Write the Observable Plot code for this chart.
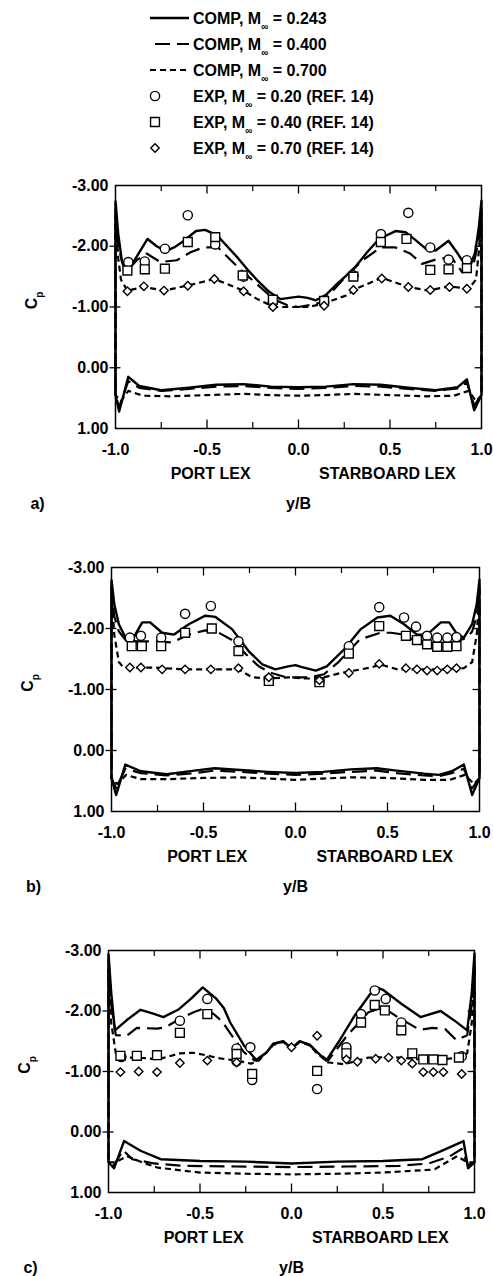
<!DOCTYPE html>
<html><head><meta charset="utf-8">
<script src="https://cdn.jsdelivr.net/npm/d3@7"></script>
<script src="https://cdn.jsdelivr.net/npm/@observablehq/plot@0.6"></script>
<style>
body{margin:0;background:#fff;}
#root{position:relative;width:493px;height:1276px;overflow:hidden;background:#fff;font-family:"Liberation Sans",Arial,sans-serif;}
#root svg{position:absolute;left:0;overflow:visible;}
</style></head><body><div id="root"></div>
<script>
// ---------- tick values and labels ----------
const xTickValues = [-1, -0.5, 0, 0.5, 1];
const xMinorTickValues = [-0.75, -0.25, 0.25, 0.75];
const yTickValues = [-3, -2, -1, 0, 1];
const sideLabels = ["PORT LEX", "STARBOARD LEX"];
const sideLabelX = [-0.48, 0.485];
const axisTitle = "y/B";
const panelLetters = ["a)", "b)", "c)"];
const compMach = ["0.243", "0.400", "0.700"];
const expMach = ["0.20", "0.40", "0.70"];

// ---------- panel a ----------
const a_u243 = [[-1.0,-2.75],[-0.985,-2.2],[-0.965,-1.75],[-0.935,-1.57],[-0.88,-1.85],[-0.825,-2.12],[-0.775,-2.0],[-0.725,-1.92],[-0.68,-1.98],[-0.635,-2.07],[-0.56,-2.25],[-0.51,-2.27],[-0.445,-2.18],[-0.39,-2.0],[-0.335,-1.82],[-0.28,-1.62],[-0.225,-1.44],[-0.16,-1.25],[-0.1,-1.13],[-0.05,-1.15],[0.0,-1.17],[0.05,-1.15],[0.095,-1.11],[0.15,-1.2],[0.2,-1.35],[0.255,-1.5],[0.31,-1.66],[0.375,-1.9],[0.44,-2.12],[0.53,-2.25],[0.585,-2.23],[0.64,-2.1],[0.695,-1.96],[0.75,-1.93],[0.82,-2.09],[0.87,-1.88],[0.93,-1.6],[0.965,-1.9],[0.985,-2.3],[1.0,-2.75]];
const a_u400 = [[-1.0,-2.6],[-0.985,-2.0],[-0.96,-1.7],[-0.935,-1.6],[-0.88,-1.78],[-0.83,-1.88],[-0.755,-1.74],[-0.665,-1.77],[-0.59,-1.9],[-0.52,-1.98],[-0.44,-1.98],[-0.37,-1.77],[-0.3,-1.57],[-0.21,-1.33],[-0.13,-1.12],[-0.06,-1.03],[0,-1.0],[0.06,-1.03],[0.13,-1.08],[0.24,-1.44],[0.35,-1.77],[0.45,-1.98],[0.53,-1.98],[0.61,-1.88],[0.675,-1.71],[0.77,-1.8],[0.84,-1.8],[0.895,-1.57],[0.935,-1.6],[0.96,-1.75],[0.985,-2.1],[1.0,-2.6]];
const a_u700 = [[-1.0,-2.5],[-0.985,-1.8],[-0.97,-1.45],[-0.935,-1.27],[-0.845,-1.33],[-0.735,-1.27],[-0.61,-1.35],[-0.46,-1.46],[-0.3,-1.27],[-0.225,-1.13],[-0.135,-1.0],[0,-1.0],[0.05,-1.0],[0.13,-1.05],[0.26,-1.19],[0.33,-1.32],[0.455,-1.48],[0.6,-1.33],[0.71,-1.27],[0.82,-1.34],[0.93,-1.3],[0.97,-1.45],[0.985,-1.9],[1.0,-2.5]];
const a_l243 = [[-1.0,0.45],[-0.98,0.72],[-0.93,0.15],[-0.87,0.3],[-0.75,0.37],[-0.6,0.33],[-0.45,0.28],[-0.3,0.27],[-0.15,0.31],[0,0.32],[0.15,0.31],[0.3,0.27],[0.45,0.28],[0.6,0.33],[0.75,0.37],[0.87,0.32],[0.92,0.19],[0.96,0.7],[1.0,0.45]];
const a_l400 = [[-1.0,0.45],[-0.98,0.65],[-0.93,0.22],[-0.87,0.33],[-0.75,0.38],[-0.6,0.35],[-0.45,0.31],[-0.3,0.3],[-0.15,0.33],[0,0.35],[0.15,0.33],[0.3,0.3],[0.45,0.31],[0.6,0.35],[0.75,0.38],[0.87,0.34],[0.92,0.24],[0.96,0.62],[1.0,0.45]];
const a_l700 = [[-1.0,0.45],[-0.97,0.55],[-0.93,0.38],[-0.85,0.46],[-0.7,0.47],[-0.5,0.45],[-0.3,0.43],[-0.15,0.45],[0,0.46],[0.15,0.45],[0.3,0.43],[0.5,0.45],[0.7,0.47],[0.85,0.46],[0.93,0.38],[0.97,0.55],[1.0,0.45]];
const a_e20 = [[-0.93,-1.74],[-0.84,-1.75],[-0.73,-1.96],[-0.605,-2.51],[-0.455,-2.03],[-0.3,-1.5],[-0.14,-1.08],[0.14,-1.08],[0.3,-1.52],[0.45,-2.2],[0.6,-2.55],[0.72,-1.98],[0.82,-1.78],[0.92,-1.77]];
const a_e40 = [[-0.935,-1.6],[-0.84,-1.62],[-0.73,-1.63],[-0.605,-2.07],[-0.455,-2.15],[-0.305,-1.52],[-0.14,-1.12],[0.14,-1.1],[0.3,-1.5],[0.45,-2.07],[0.59,-2.12],[0.72,-1.61],[0.82,-1.62],[0.92,-1.64]];
const a_e70 = [[-0.935,-1.26],[-0.845,-1.34],[-0.735,-1.27],[-0.605,-1.35],[-0.46,-1.46],[-0.3,-1.26],[-0.14,-1.0],[0.14,-1.02],[0.3,-1.28],[0.455,-1.47],[0.6,-1.33],[0.72,-1.28],[0.825,-1.33],[0.92,-1.3]];

// ---------- panel b ----------
const b_u243 = [[-1.0,-2.8],[-0.985,-2.4],[-0.96,-2.07],[-0.924,-1.85],[-0.88,-1.85],[-0.833,-2.1],[-0.79,-2.1],[-0.725,-1.93],[-0.66,-1.9],[-0.58,-2.07],[-0.49,-2.21],[-0.435,-2.19],[-0.345,-1.99],[-0.255,-1.63],[-0.18,-1.41],[-0.11,-1.33],[-0.04,-1.38],[0,-1.4],[0.03,-1.37],[0.11,-1.31],[0.17,-1.38],[0.265,-1.66],[0.355,-1.99],[0.445,-2.18],[0.515,-2.21],[0.59,-2.07],[0.66,-1.9],[0.715,-1.9],[0.79,-2.1],[0.835,-2.1],[0.88,-1.9],[0.915,-1.85],[0.96,-2.07],[0.985,-2.4],[1.0,-2.8]];
const b_u400 = [[-1.0,-2.7],[-0.985,-2.2],[-0.96,-1.95],[-0.92,-1.8],[-0.85,-1.79],[-0.76,-1.79],[-0.67,-1.77],[-0.58,-1.9],[-0.49,-1.97],[-0.435,-1.96],[-0.35,-1.82],[-0.27,-1.58],[-0.2,-1.38],[-0.13,-1.27],[-0.05,-1.2],[0,-1.2],[0.08,-1.2],[0.155,-1.25],[0.23,-1.44],[0.35,-1.82],[0.46,-1.93],[0.52,-1.93],[0.59,-1.9],[0.66,-1.78],[0.77,-1.77],[0.86,-1.77],[0.93,-1.85],[0.96,-1.95],[0.985,-2.2],[1.0,-2.7]];
const b_u700 = [[-1.0,-2.6],[-0.985,-1.9],[-0.96,-1.45],[-0.94,-1.38],[-0.89,-1.36],[-0.76,-1.36],[-0.615,-1.33],[-0.47,-1.33],[-0.31,-1.33],[-0.235,-1.2],[-0.145,-1.18],[-0.035,-1.2],[0.05,-1.18],[0.13,-1.18],[0.245,-1.27],[0.3,-1.3],[0.41,-1.36],[0.46,-1.41],[0.555,-1.33],[0.7,-1.33],[0.805,-1.33],[0.915,-1.35],[0.96,-1.45],[0.985,-1.9],[1.0,-2.6]];
const b_l243 = [[-1.0,0.45],[-0.975,0.73],[-0.925,0.23],[-0.84,0.34],[-0.7,0.39],[-0.55,0.33],[-0.44,0.29],[-0.3,0.32],[-0.15,0.35],[0,0.37],[0.15,0.35],[0.3,0.31],[0.44,0.29],[0.55,0.33],[0.7,0.38],[0.78,0.4],[0.85,0.34],[0.915,0.23],[0.96,0.73],[1.0,0.45]];
const b_l400 = [[-1.0,0.45],[-0.975,0.62],[-0.925,0.3],[-0.84,0.37],[-0.7,0.41],[-0.55,0.37],[-0.44,0.33],[-0.3,0.35],[-0.15,0.38],[0,0.4],[0.15,0.38],[0.3,0.35],[0.44,0.33],[0.55,0.37],[0.7,0.41],[0.78,0.42],[0.85,0.37],[0.915,0.3],[0.96,0.62],[1.0,0.45]];
const b_l700 = [[-1.0,0.45],[-0.97,0.55],[-0.92,0.4],[-0.84,0.47],[-0.7,0.47],[-0.5,0.45],[-0.3,0.44],[-0.15,0.46],[0,0.48],[0.15,0.46],[0.3,0.44],[0.5,0.45],[0.7,0.48],[0.84,0.48],[0.92,0.4],[0.97,0.55],[1.0,0.45]];
const b_e20 = [[-0.9,-1.85],[-0.84,-1.88],[-0.73,-1.85],[-0.6,-2.24],[-0.46,-2.37],[-0.31,-1.79],[-0.145,-1.17],[0.13,-1.13],[0.29,-1.71],[0.455,-2.35],[0.59,-2.18],[0.655,-2.03],[0.715,-1.88],[0.77,-1.85],[0.825,-1.85],[0.875,-1.86]];
const b_e40 = [[-0.89,-1.71],[-0.835,-1.71],[-0.73,-1.71],[-0.6,-1.93],[-0.455,-2.0],[-0.31,-1.63],[-0.145,-1.14],[0.13,-1.12],[0.29,-1.59],[0.455,-2.04],[0.6,-1.88],[0.66,-1.81],[0.715,-1.74],[0.77,-1.7],[0.825,-1.7],[0.875,-1.71]];
const b_e70 = [[-0.9,-1.36],[-0.84,-1.36],[-0.725,-1.33],[-0.6,-1.33],[-0.46,-1.33],[-0.31,-1.35],[-0.145,-1.2],[0.13,-1.15],[0.29,-1.27],[0.455,-1.42],[0.6,-1.35],[0.66,-1.33],[0.715,-1.31],[0.77,-1.31],[0.825,-1.33],[0.875,-1.35]];

// ---------- panel c ----------
const c_u243 = [[-1.0,-2.95],[-0.985,-2.3],[-0.965,-1.68],[-0.9,-1.85],[-0.825,-2.02],[-0.76,-1.96],[-0.7,-1.9],[-0.62,-2.02],[-0.55,-2.2],[-0.485,-2.39],[-0.41,-2.2],[-0.37,-2.05],[-0.335,-1.81],[-0.26,-1.43],[-0.19,-1.18],[-0.135,-1.32],[-0.1,-1.46],[-0.045,-1.5],[0,-1.38],[0.045,-1.5],[0.1,-1.44],[0.14,-1.32],[0.19,-1.18],[0.26,-1.5],[0.34,-1.9],[0.43,-2.28],[0.465,-2.39],[0.5,-2.35],[0.6,-2.12],[0.705,-1.9],[0.815,-2.0],[0.9,-1.82],[0.96,-1.68],[0.985,-2.3],[1.0,-2.95]];
const c_u400 = [[-1.0,-2.85],[-0.985,-2.1],[-0.96,-1.6],[-0.9,-1.59],[-0.845,-1.72],[-0.735,-1.71],[-0.69,-1.73],[-0.61,-1.87],[-0.535,-1.98],[-0.48,-2.04],[-0.425,-1.95],[-0.38,-1.83],[-0.325,-1.59],[-0.26,-1.32],[-0.2,-1.18],[-0.135,-1.32],[-0.1,-1.45],[-0.045,-1.5],[0,-1.38],[0.045,-1.5],[0.1,-1.44],[0.14,-1.32],[0.2,-1.18],[0.3,-1.58],[0.42,-1.98],[0.5,-2.06],[0.58,-1.9],[0.7,-1.69],[0.77,-1.72],[0.84,-1.7],[0.9,-1.52],[0.96,-1.6],[0.985,-2.1],[1.0,-2.85]];
const c_u700 = [[-1.0,-2.7],[-0.985,-1.8],[-0.96,-1.3],[-0.9,-1.23],[-0.8,-1.22],[-0.73,-1.2],[-0.61,-1.3],[-0.535,-1.31],[-0.47,-1.27],[-0.4,-1.22],[-0.3,-1.18],[-0.22,-1.13],[-0.18,-1.18],[-0.135,-1.32],[-0.1,-1.44],[-0.045,-1.49],[0,-1.37],[0.045,-1.49],[0.1,-1.43],[0.14,-1.3],[0.2,-1.15],[0.29,-1.12],[0.36,-1.18],[0.42,-1.23],[0.55,-1.24],[0.7,-1.2],[0.8,-1.2],[0.9,-1.22],[0.96,-1.3],[0.985,-1.8],[1.0,-2.7]];
const c_l243 = [[-1.0,0.5],[-0.97,0.6],[-0.915,0.15],[-0.825,0.31],[-0.715,0.45],[-0.5,0.48],[-0.25,0.49],[0,0.52],[0.25,0.49],[0.5,0.48],[0.715,0.45],[0.83,0.3],[0.94,0.15],[0.965,0.6],[1.0,0.5]];
const c_l400 = [[-1.0,0.5],[-0.97,0.55],[-0.92,0.3],[-0.87,0.45],[-0.75,0.52],[-0.59,0.56],[-0.3,0.57],[0,0.58],[0.3,0.57],[0.59,0.56],[0.75,0.52],[0.86,0.41],[0.93,0.28],[0.965,0.55],[1.0,0.5]];
const c_l700 = [[-1.0,0.5],[-0.96,0.5],[-0.9,0.4],[-0.8,0.52],[-0.73,0.59],[-0.5,0.67],[-0.25,0.69],[0,0.7],[0.25,0.69],[0.5,0.67],[0.78,0.62],[0.905,0.4],[0.96,0.5],[1.0,0.5]];
const c_e20 = [[-0.93,-1.24],[-0.61,-1.84],[-0.46,-2.2],[-0.3,-1.38],[-0.3,-1.17],[-0.225,-1.4],[-0.215,-0.86],[0.14,-0.71],[0.3,-1.4],[0.38,-1.95],[0.455,-2.34],[0.515,-2.2],[0.6,-1.81],[0.93,-1.25]];
const c_e40 = [[-0.935,-1.26],[-0.845,-1.26],[-0.735,-1.27],[-0.61,-1.64],[-0.46,-1.95],[-0.3,-1.29],[-0.215,-0.96],[0.14,-1.01],[0.3,-1.3],[0.38,-1.81],[0.455,-2.1],[0.51,-2.01],[0.6,-1.68],[0.66,-1.3],[0.72,-1.2],[0.775,-1.2],[0.825,-1.19],[0.915,-1.23]];
const c_e70 = [[-0.935,-0.99],[-0.835,-1.0],[-0.735,-0.99],[-0.61,-1.14],[-0.46,-1.18],[-0.3,-1.15],[0.0,-1.4],[0.14,-1.59],[0.3,-1.2],[0.36,-1.16],[0.46,-1.21],[0.53,-1.23],[0.6,-1.18],[0.66,-1.13],[0.72,-0.99],[0.775,-0.99],[0.83,-0.99],[0.93,-0.96]];

// ---------- styles / layout ----------
const FONT = '"Liberation Sans", Arial, sans-serif';
const FS = 16;
const FW = "bold";
const lineStyles = [{dash: null, w: 2.4}, {dash: "15,7", w: 2.2}, {dash: "6,4", w: 2.2}];
const symbols = [{symbol: "circle", r: 4.6}, {symbol: "square", r: 5.0}, {symbol: "diamond2", r: 3.8}];

const layout = [
  {top: 160, height: 360, mt: 25, mb: 92, ml: 115, mr: 12},
  {top: 545, height: 360, mt: 22, mb: 94, ml: 111, mr: 14},
  {top: 928, height: 348, mt: 22, mb: 84, ml: 108, mr: 19}
];
const panelData = [
  {u: [a_u243, a_u400, a_u700], l: [a_l243, a_l400, a_l700], e: [a_e20, a_e40, a_e70]},
  {u: [b_u243, b_u400, b_u700], l: [b_l243, b_l400, b_l700], e: [b_e20, b_e40, b_e70]},
  {u: [c_u243, c_u400, c_u700], l: [c_l243, c_l400, c_l700], e: [c_e20, c_e40, c_e70]}
];

const loop = (upper, lower) => [...upper, ...lower.slice().reverse(), upper[0]];
const root = document.getElementById("root");

// ---------- legend ----------
const legend = d3.select(root).append("svg")
  .attr("width", 493).attr("height", 165).style("top", "0px")
  .attr("font-family", FONT).attr("font-size", FS).attr("font-weight", FW);
const rowY = i => 18 + i * 26;
compMach.forEach((m, i) => {
  const st = lineStyles[i];
  legend.append("line")
    .attr("x1", i === 1 ? 155 : 150).attr("x2", 189)
    .attr("y1", rowY(i)).attr("y2", rowY(i))
    .attr("stroke", "black").attr("stroke-width", st.w)
    .attr("stroke-dasharray", st.dash);
  const t = legend.append("text").attr("x", 193).attr("y", rowY(i)).attr("dy", "0.36em");
  t.append("tspan").text("COMP, M");
  t.append("tspan").attr("font-size", 10).attr("baseline-shift", "sub").text("\u221E");
  t.append("tspan").text(" = " + m);
});
expMach.forEach((m, i) => {
  const y = rowY(i + 3);
  const sy = symbols[i];
  const shape = sy.symbol === "circle" ? d3.symbolCircle : sy.symbol === "square" ? d3.symbolSquare : d3.symbolDiamond2;
  legend.append("path")
    .attr("d", d3.symbol(shape, Math.PI * sy.r * sy.r)())
    .attr("transform", `translate(155,${y})`)
    .attr("fill", "white").attr("stroke", "black").attr("stroke-width", 1.4);
  const t = legend.append("text").attr("x", 193).attr("y", y).attr("dy", "0.36em");
  t.append("tspan").text("EXP, M");
  t.append("tspan").attr("font-size", 10).attr("baseline-shift", "sub").text("\u221E");
  t.append("tspan").text(" = " + m + " (REF. 14)");
});

// ---------- panels ----------
panelData.forEach((pd, k) => {
  const L = layout[k];
  const lineMarks = [];
  pd.u.forEach((u, i) => {
    const st = lineStyles[i];
    lineMarks.push(Plot.line(loop(u, pd.l[i]), {
      x: d => d[0], y: d => d[1], stroke: "black", strokeWidth: st.w,
      strokeDasharray: st.dash, strokeLinejoin: "round", strokeLinecap: "butt"
    }));
  });
  const dotMarks = pd.e.map((e, i) => Plot.dot(e, {
    x: d => d[0], y: d => d[1], symbol: symbols[i].symbol, r: symbols[i].r,
    fill: "white", stroke: "black", strokeWidth: 1.4
  }));
  const chart = Plot.plot({
    width: 493, height: L.height,
    marginTop: L.mt, marginBottom: L.mb, marginLeft: L.ml, marginRight: L.mr,
    style: {fontFamily: FONT, fontSize: FS + "px", fontWeight: FW, background: "transparent", overflow: "visible"},
    x: {domain: [-1, 1]},
    y: {domain: [-3, 1], reverse: true},
    marks: [
      ...lineMarks,
      ...dotMarks,
      Plot.frame({stroke: "black", strokeWidth: 1.5}),
      Plot.ruleX(xTickValues.slice(1, -1), {x: d => d, y1: -3, y2: -2.86, stroke: "black", strokeWidth: 1.3}),
      Plot.ruleX(xTickValues.slice(1, -1), {x: d => d, y1: 1, y2: 0.86, stroke: "black", strokeWidth: 1.3}),
      Plot.ruleX(xMinorTickValues, {x: d => d, y1: -3, y2: -2.9, stroke: "black", strokeWidth: 1.2}),
      Plot.ruleX(xMinorTickValues, {x: d => d, y1: 1, y2: 0.9, stroke: "black", strokeWidth: 1.2}),
      Plot.ruleY(yTickValues.slice(1, -1), {y: d => d, x1: -1.03, x2: -0.97, stroke: "black", strokeWidth: 1.3}),
      Plot.ruleY(yTickValues.slice(1, -1), {y: d => d, x1: 1, x2: 0.965, stroke: "black", strokeWidth: 1.3}),
      Plot.axisX(xTickValues, {tickSize: 0, tickPadding: 15, tickFormat: d => d.toFixed(1), label: null, fill: "black", fontSize: FS}),
      Plot.axisY(yTickValues, {tickSize: 0, tickPadding: 7, tickFormat: d => d.toFixed(2), label: null, fill: "black", fontSize: FS}),
      Plot.text(sideLabels, {x: (d, i) => sideLabelX[i], y: () => 1, text: d => d, dy: 45, fill: "black", fontSize: FS}),
      Plot.text([axisTitle], {x: () => 0, y: () => 1, text: d => d, dy: 75, fill: "black", fontSize: FS}),
      Plot.text([panelLetters[k]], {x: () => -1, y: () => 1, text: d => d, dy: 75, dx: -78, fill: "black", fontSize: FS})
    ]
  });
  chart.style.top = L.top + "px";
  root.appendChild(chart);
  // y-axis label C_p
  const xs = chart.scale("x"), ys = chart.scale("y");
  const cx = xs.apply(-1) - 84, cy = ys.apply(-1.1);
  const t = d3.select(chart).append("text")
    .attr("transform", `translate(${cx},${cy}) rotate(-90)`)
    .attr("text-anchor", "middle").attr("dy", "0.36em")
    .attr("font-family", FONT).attr("font-size", FS).attr("font-weight", FW).attr("fill", "black");
  t.append("tspan").text("C");
  t.append("tspan").attr("font-size", 10).attr("baseline-shift", "sub").text("p");
});
</script>
</body></html>
